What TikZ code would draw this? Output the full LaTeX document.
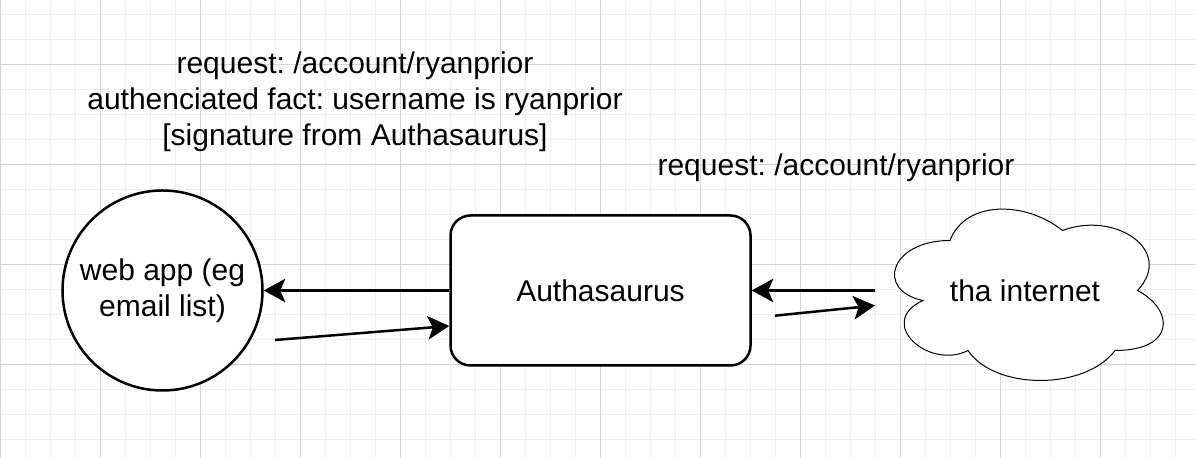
\documentclass[tikz,border=0pt]{standalone}
\usepackage{fontspec}
\setmainfont{Liberation Sans}
\usepackage{tikz}
\usetikzlibrary{positioning,arrows.meta,backgrounds}
\definecolor{minorgrid}{HTML}{F0F0F0}
\definecolor{majorgrid}{HTML}{D6D6D6}
\frenchspacing

\begin{document}
\begin{tikzpicture}[x=0.4pt, y=0.4pt, line width=1pt,
    font=\fontsize{12}{14.4}\selectfont,
    >={Stealth[length=8.6pt,width=9.4pt,inset=2pt]},
    appnode/.style={circle, draw, fill=white, minimum size=80pt, inner sep=0pt, align=center},
    authnode/.style={rectangle, draw, fill=white, rounded corners=8pt, minimum width=120pt, minimum height=60pt},
    cloudnode/.style={minimum width=120pt, minimum height=80pt, inner sep=0pt, outer sep=0pt}]
  \useasboundingbox (0,0) rectangle (1196,458);
  \begin{scope}[on background layer]
    \fill[white] (0,0) rectangle (1196,458);
    \draw[minorgrid, line width=0.4pt, step=25, shift={(0,-7)}] (0,7) grid (1196,465);
    \draw[majorgrid, line width=0.4pt, step=100, shift={(0,-7)}] (0,7) grid (1196,465);
  \end{scope}
  \node[appnode] (app) at (162.5,167.5) {web app (eg\\ email list)};
  \node[authnode, right=74.2pt of app] (auth) {Authasaurus};
  \node[cloudnode, right=49.3pt of auth] (inet) {tha internet};
  \begin{scope}[on background layer]
    \draw[fill=white, shift={(inet.north west)}, x={(120pt,0pt)}, y={(0pt,-80pt)}]
      (0.25,0.25) .. controls (0.05,0.25) and (0,0.5) .. (0.16,0.55)
      .. controls (0,0.66) and (0.18,0.9) .. (0.31,0.8)
      .. controls (0.4,1) and (0.7,1) .. (0.8,0.8)
      .. controls (1,0.8) and (1,0.6) .. (0.875,0.5)
      .. controls (1,0.3) and (0.8,0.1) .. (0.625,0.2)
      .. controls (0.5,0.05) and (0.3,0.05) .. (0.25,0.25) -- cycle;
  \end{scope}
  \node (signedreq) [align=center] at (355,356)
    {request: /account/ryanprior\\authenciated fact: username is ryanprior\\{}[signature from Authasaurus]};
  \node (plainreq) at (836,290) {request: /account/ryanprior};
  \coordinate (appout) at (275,118);
  \coordinate (authout) at (775,142.3);
  \path[->]
  (auth) edge (app)
  (appout) edge ([yshift=-14.2pt]auth.west)
  (inet) edge (auth)
  (authout) edge ([yshift=-6pt]inet.west)
          ;
\end{tikzpicture}
\end{document}
